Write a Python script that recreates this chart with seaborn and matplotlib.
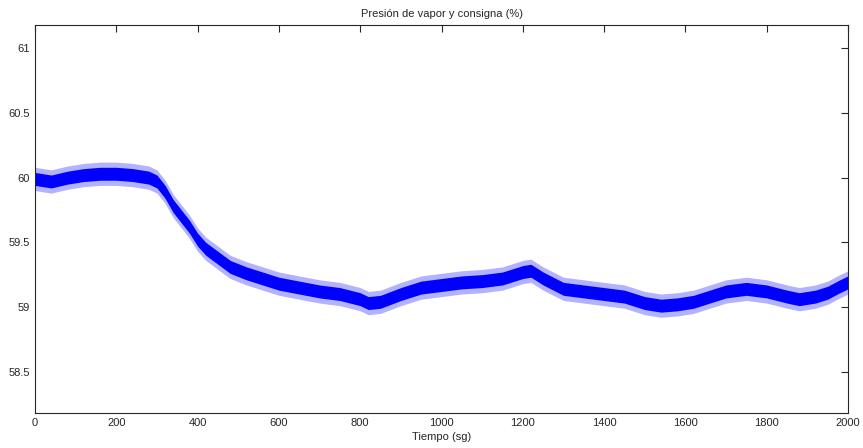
"""
Presion de vapor y consigna - recreated plot
"""
import numpy as np
import pandas as pd
import seaborn as sns
import matplotlib.pyplot as plt

# %% Data (trend of the noisy signal)
tiempo = [0, 40, 80, 120, 160, 200, 240, 280, 300, 320, 340, 360, 380, 400,
          420, 450, 480, 520, 560, 600, 650, 700, 750, 800, 820, 850, 900,
          950, 1000, 1050, 1100, 1150, 1200, 1220, 1250, 1300, 1350, 1400,
          1450, 1500, 1540, 1580, 1620, 1660, 1700, 1750, 1800, 1850, 1880,
          1920, 1950, 1980, 2000]
presion = [59.99, 59.97, 60.00, 60.02, 60.03, 60.03, 60.02, 60.00, 59.97,
           59.89, 59.78, 59.70, 59.62, 59.52, 59.45, 59.38, 59.31, 59.26,
           59.22, 59.18, 59.15, 59.12, 59.10, 59.06, 59.03, 59.04, 59.10,
           59.15, 59.17, 59.19, 59.20, 59.22, 59.27, 59.28, 59.22, 59.14,
           59.12, 59.10, 59.08, 59.03, 59.01, 59.02, 59.04, 59.08, 59.12,
           59.14, 59.12, 59.08, 59.06, 59.08, 59.11, 59.16, 59.19]
ruido = [0.05] * len(tiempo)  # half width of the dense noise band

xticks = [0, 200, 400, 600, 800, 1000, 1200, 1400, 1600, 1800, 2000]
yticks = [58.5, 59, 59.5, 60, 60.5, 61]
ytick_labels = ['58.5', '59', '59.5', '60', '60.5', '61']

df = pd.DataFrame({'t': tiempo, 'p': presion, 'n': ruido})

# %% Plot
sns.set_style('white')
plt.rcParams['font.family'] = ['Liberation Sans', 'DejaVu Sans']

fig = plt.figure(figsize=(8.63, 4.48), dpi=100)
ax = fig.add_axes([0.0406, 0.0781, 0.942, 0.866])

ax.fill_between(df.t, df.p - 1.8 * df.n, df.p + 1.8 * df.n,
                color='#0000ff', alpha=0.3, lw=0)
ax.fill_between(df.t, df.p - df.n, df.p + df.n, color='#0000ff', lw=0)
sns.lineplot(data=df, x='t', y='p', ax=ax, color='#0000ff', lw=1.0)

ax.set_xlim(0, 2000)
ax.set_ylim(58.18, 61.18)
ax.set_xticks(xticks)
ax.set_yticks(yticks)
ax.set_yticklabels(ytick_labels)
ax.tick_params(direction='in', length=5, width=0.8, top=True, right=True,
               labelsize=8, colors='#262626')
ax.tick_params(axis='both', which='both', labeltop=False, labelright=False)
for s in ax.spines.values():
    s.set_color('#262626')
    s.set_linewidth(0.8)

ax.set_title('Presión de vapor y consigna (%)', fontsize=8, pad=6)
ax.set_xlabel('Tiempo (sg)', fontsize=8, labelpad=3)
ax.set_ylabel('')

fig.savefig('out.png', dpi=100)
